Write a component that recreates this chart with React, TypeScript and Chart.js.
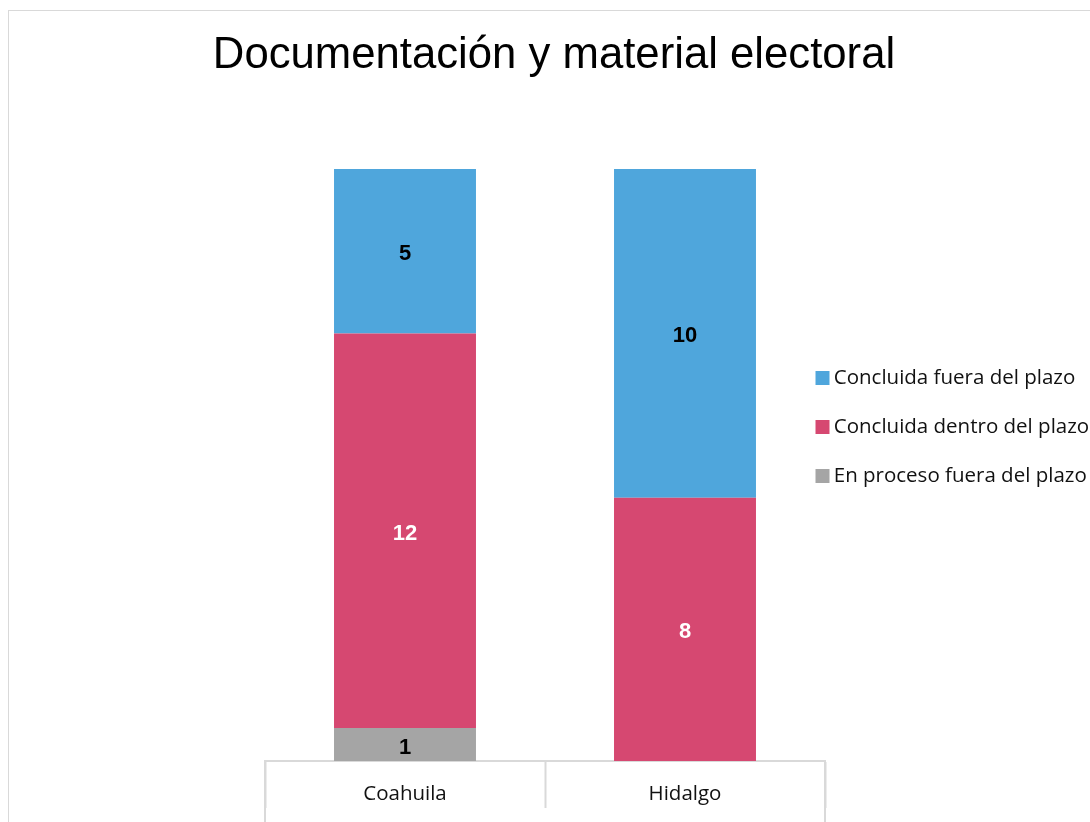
import React, { useEffect, useRef } from "react";
import { Chart, registerables } from "chart.js";

Chart.register(...registerables);

const categories = ["Coahuila", "Hidalgo"];
const enProcesoFuera = [1, 0];
const concluidaDentro = [12, 8];
const concluidaFuera = [5, 10];
const seriesNames = ["En proceso fuera del plazo", "Concluida dentro del plazo", "Concluida fuera del plazo"];
const titleText = "Documentación y material electoral";
const yMax = 18;

const GRAY = "#A5A5A5";
const PINK = "#D64871";
const BLUE = "#4FA6DC";
const LINE = "#D9D9D9";

const valueLabels = {
  id: "valueLabels",
  afterDatasetsDraw(chart: any) {
    const ctx = chart.ctx;
    ctx.save();
    ctx.font = "bold 22px 'Liberation Sans', Arial, sans-serif";
    ctx.textAlign = "center";
    ctx.textBaseline = "middle";
    chart.data.datasets.forEach((ds: any, di: number) => {
      const meta = chart.getDatasetMeta(di);
      meta.data.forEach((bar: any, i: number) => {
        const v = ds.data[i];
        if (!v) return;
        ctx.fillStyle = ds.labelColor;
        ctx.fillText(String(v), bar.x, (bar.y + bar.base) / 2 + 3);
      });
    });
    ctx.restore();
  },
};

const tableLines = {
  id: "tableLines",
  afterLayout(chart: any) {
    const lg = chart.legend;
    if (lg) {
      lg.left -= 32;
      lg.width += 32;
    }
  },
  afterDraw(chart: any) {
    const x = chart.scales.x;
    const ctx = chart.ctx;
    ctx.save();
    ctx.strokeStyle = LINE;
    ctx.lineWidth = 2;
    [x.left, x.right].forEach((px: number) => {
      ctx.beginPath();
      ctx.moveTo(px, chart.chartArea.bottom);
      ctx.lineTo(px, chart.height);
      ctx.stroke();
    });
    ctx.restore();
  },
};

export default function App() {
  const ref = useRef<HTMLCanvasElement>(null);
  useEffect(() => {
    if (!ref.current) return;
    const chart = new Chart(ref.current, {
      type: "bar",
      data: {
        labels: categories,
        datasets: [
          { label: seriesNames[0], data: enProcesoFuera, backgroundColor: GRAY, labelColor: "#000" } as any,
          { label: seriesNames[1], data: concluidaDentro, backgroundColor: PINK, labelColor: "#fff" } as any,
          { label: seriesNames[2], data: concluidaFuera, backgroundColor: BLUE, labelColor: "#000" } as any,
        ],
      },
      options: {
        responsive: false,
        animation: false,
        layout: { padding: 0 },
        datasets: { bar: { categoryPercentage: 1, barPercentage: 0.507 } },
        plugins: {
          title: {
            display: true,
            text: titleText,
            color: "#000",
            font: { family: "'Liberation Sans', Arial, sans-serif", size: 43.7, weight: "normal", lineHeight: 1.2 },
            padding: { top: 19, bottom: 86.5 },
          },
          legend: {
            position: "right",
            reverse: true,
            maxWidth: 274,
            labels: {
              usePointStyle: true,
              pointStyle: "rect",
              boxWidth: 2,
              boxHeight: 14,
              padding: 28.5,
              color: "#111",
              font: { family: "'Open Sans', sans-serif", size: 20.5 },
            },
          },
          tooltip: { enabled: false },
        },
        scales: {
          x: {
            stacked: true,
            grid: {
              display: true,
              offset: true,
              drawOnChartArea: false,
              drawTicks: true,
              tickLength: 47,
              tickColor: LINE,
              tickWidth: 2,
            },
            border: { display: true, color: LINE, width: 2 },
            ticks: {
              padding: -26.5,
              color: "#111",
              font: { family: "'Open Sans', sans-serif", size: 20.5 },
            },
            afterFit(scale: any) {
              scale.height = 82;
            },
          },
          y: {
            stacked: true,
            min: 0,
            max: yMax,
            grid: { display: false },
            border: { display: false },
            ticks: { display: false },
            afterFit(scale: any) {
              scale.width = 256;
            },
          },
        },
      } as any,
      plugins: [valueLabels, tableLines],
    });
    return () => chart.destroy();
  }, []);

  return (
    <div style={{ position: "fixed", inset: 0, overflow: "hidden", background: "#fff" }}>
      <div
        style={{
          position: "absolute",
          left: 8,
          top: 10,
          width: 1200,
          height: 900,
          border: "1px solid " + LINE,
          boxSizing: "border-box",
        }}
      >
        <canvas ref={ref} width={1090} height={832} style={{ display: "block" }} />
      </div>
    </div>
  );
}
